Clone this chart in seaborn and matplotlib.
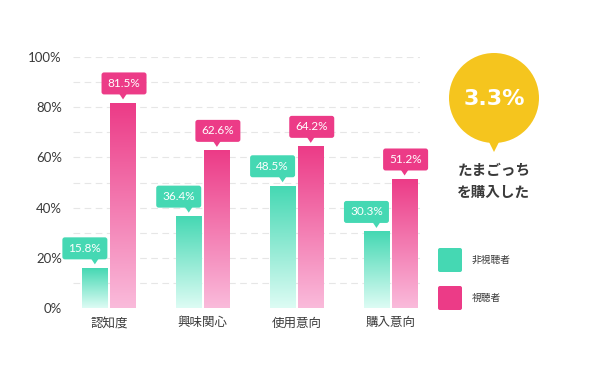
import numpy as np
import pandas as pd
import matplotlib
matplotlib.use("Agg")
import matplotlib.pyplot as plt
import seaborn as sns
from matplotlib.patches import FancyBboxPatch, Polygon, Circle
from matplotlib.transforms import IdentityTransform
from matplotlib.colors import to_rgba

# ---- data ----
categories = ["認知度", "興味関心", "使用意向", "購入意向"]
groups = ["非視聴者", "視聴者"]
non_viewers = [15.8, 36.4, 48.5, 30.3]
viewers = [81.5, 62.6, 64.2, 51.2]
y_ticks = [0, 20, 40, 60, 80, 100]
y_tick_labels = ["0%", "20%", "40%", "60%", "80%", "100%"]
highlight_value = "3.3%"
highlight_caption = ["たまごっち", "を購入した"]

df = pd.DataFrame({
    "category": categories * 2,
    "group": [groups[0]] * 4 + [groups[1]] * 4,
    "value": non_viewers + viewers,
})

TEAL = "#45D8B3"
TEAL_LIGHT = "#DDFCF4"
PINK = "#EC3B87"
PINK_LIGHT = "#FABBDB"
YELLOW = "#F5C51E"
TXT = "#3a3a3a"

sns.set_theme(style="white")
plt.rcParams["font.family"] = ["Lato", "Noto Sans CJK JP", "DejaVu Sans"]
CJK = ["Noto Sans CJK JP", "DejaVu Sans"]

fig = plt.figure(figsize=(6, 3.75), dpi=100)
fig.patch.set_facecolor("white")
ax = fig.add_axes([73 / 600, 67 / 375, 347 / 600, 251 / 375])

sns.barplot(data=df, x="category", y="value", hue="group", order=categories,
            hue_order=groups, palette=[TEAL, PINK], width=0.6, gap=0.11,
            legend=False, ax=ax, saturation=1)

ax.set_xlim(-0.383, 3.314)
ax.set_ylim(0, 100)

# dashed gridlines
for g in range(10, 101, 10):
    ax.axhline(g, color="#e6e6e6", lw=0.8, ls=(0, (6, 4)), zorder=0)

# gradient fill
def gradient_fill(bar, top, bottom):
    x0, w, h = bar.get_x(), bar.get_width(), bar.get_height()
    t = np.linspace(0, 1, 256)[:, None]
    c0 = np.array(to_rgba(bottom))
    c1 = np.array(to_rgba(top))
    img = (c0 + (c1 - c0) * t).reshape(256, 1, 4)
    ax.imshow(img, extent=[x0, x0 + w, 0, h], origin="lower", aspect="auto",
              zorder=2, interpolation="bilinear")
    bar.set_visible(False)

for bar in ax.containers[0]:
    gradient_fill(bar, TEAL, TEAL_LIGHT)
for bar in ax.containers[1]:
    gradient_fill(bar, PINK, PINK_LIGHT)

ax.set_xlim(-0.383, 3.314)
ax.set_ylim(0, 100)

ax.set_yticks(y_ticks)
ax.set_yticklabels(y_tick_labels)
ax.set_xticks(range(len(categories)))
ax.set_xticklabels(categories, fontfamily=CJK)
ax.tick_params(axis="y", length=0, pad=8, labelsize=9.5, labelcolor=TXT)
ax.tick_params(axis="x", length=0, pad=6, labelsize=9, labelcolor=TXT)
ax.set_xlabel("")
ax.set_ylabel("")
for s in ax.spines.values():
    s.set_visible(False)

# callouts
ID = IdentityTransform()

def callout(bar, val, color, dx):
    xc = bar.get_x() + bar.get_width() / 2
    px, py = ax.transData.transform((xc, bar.get_height()))
    tip = py + 4
    bb = tip + 5
    w, h = 45, 22
    box = FancyBboxPatch((px + dx - w / 2, bb), w, h,
                         boxstyle="round,pad=0,rounding_size=2.5",
                         fc=color, ec="none", transform=ID, zorder=5)
    fig.add_artist(box)
    tri = Polygon([(px - 4, bb + 1), (px + 4, bb + 1), (px, tip)], closed=True,
                  fc=color, ec="none", transform=ID, zorder=5)
    fig.add_artist(tri)
    fig.text(px + dx, bb + h / 2, f"{val:.1f}%", transform=ID, ha="center",
             va="center", color="white", fontsize=8.5, zorder=6)

for bar, v in zip(ax.containers[0], non_viewers):
    callout(bar, v, TEAL, -10)
for bar, v in zip(ax.containers[1], viewers):
    callout(bar, v, PINK, 1)

# highlight bubble
cx, cy, r = 494, 277, 45
fig.add_artist(Circle((cx, cy), r, fc=YELLOW, ec="none", transform=ID))
fig.add_artist(Polygon([(cx - 6, cy - r + 3), (cx + 6, cy - r + 3), (cx, cy - r - 9)],
                       closed=True, fc=YELLOW, ec="none", transform=ID))
fig.text(cx, cy - 1, highlight_value, transform=ID, ha="center", va="center",
         color="white", fontsize=16, fontweight="bold",
         family=["DejaVu Sans"])
fig.text(cx, 205, highlight_caption[0], transform=ID, ha="center", va="center",
         color=TXT, fontsize=10.5, fontweight="bold", family=CJK)
fig.text(cx, 183, highlight_caption[1], transform=ID, ha="center", va="center",
         color=TXT, fontsize=10.5, fontweight="bold", family=CJK)

# legend
for (y0, col, lab) in [(103, TEAL, groups[0]), (65, PINK, groups[1])]:
    fig.add_artist(FancyBboxPatch((438, y0), 24, 24,
                                  boxstyle="round,pad=0,rounding_size=2",
                                  fc=col, ec="none", transform=ID))
    fig.text(472, y0 + 12, lab, transform=ID, ha="left", va="center",
             color=TXT, fontsize=7, family=CJK)

fig.savefig("out.png", dpi=100, facecolor="white")
